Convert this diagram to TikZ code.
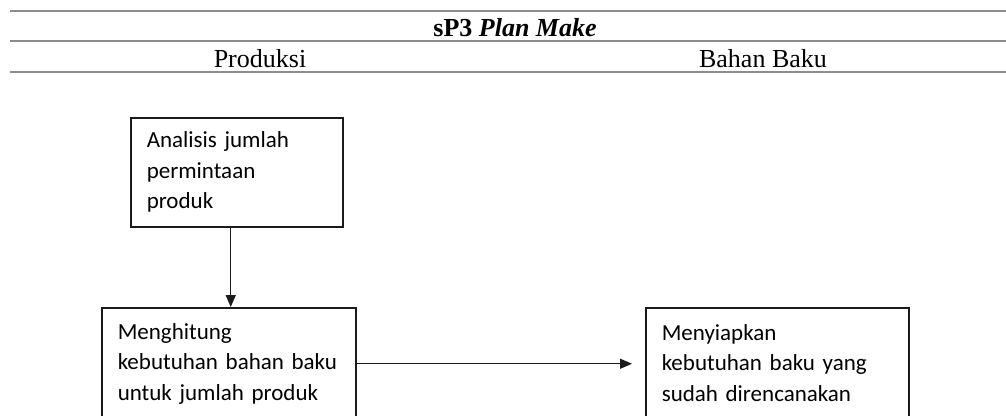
\documentclass[tikz,border=0pt]{standalone}
\usepackage{fontspec}
\setmainfont{Liberation Serif}
\newfontfamily\bodyfont{Carlito}
\usetikzlibrary{arrows.meta}
\definecolor{rulegray}{HTML}{8C8C8C}
\definecolor{ink}{HTML}{1A1A1A}
\begin{document}
\begin{tikzpicture}[x=1pt,y=-1pt,
  rowrule/.style={draw=rulegray,line width=1.6pt},
  headtext/.style={anchor=base,inner sep=0pt,font=\fontsize{26}{30}\selectfont},
  stepbox/.style={draw=ink,line width=1.5pt,anchor=north west,
    inner xsep=16pt,inner ysep=0pt,align=left,
    font=\bodyfont\fontsize{23}{30.5}\selectfont},
  flow/.style={draw=ink,line width=1.4pt,-{Triangle[length=12pt,width=10pt]}}]
\useasboundingbox (0,0) rectangle (1006,415);
\clip (0,0) rectangle (1006,415);

% table header rules
\coordinate (r1l) at (10,11);  \coordinate (r1r) at (1006,11);
\coordinate (r2l) at (10,41);  \coordinate (r2r) at (1006,41);
\coordinate (r3l) at (10,72);  \coordinate (r3r) at (1006,72);
\draw[rowrule] (r1l) -- (r1r);
\draw[rowrule] (r2l) -- (r2r);
\draw[rowrule] (r3l) -- (r3r);

% header texts
\node[headtext] (title) at (515,36) {\textbf{sP3 \textit{Plan Make}}};
\node[headtext] (colA) at (260,67) {Produksi};
\node[headtext] (colB) at (763,67) {Bahan Baku};

% process boxes (the lower two run past the bottom edge)
\node[stepbox,text width=180pt,minimum width=212pt,minimum height=109pt] (b1) at (130,117)
  {Analisis jumlah\\permintaan\\produk};
\node[stepbox,text width=222pt,minimum width=254pt,minimum height=112pt] (b2) at (101,307)
  {Menghitung\\kebutuhan bahan baku\\untuk jumlah produk};
\node[stepbox,text width=231pt,minimum width=263pt,minimum height=110pt] (b3) at (645,307)
  {Menyiapkan\\kebutuhan baku yang\\sudah direncanakan};

% connectors
\draw[flow] ([xshift=-6pt]b1.south) -- ([xshift=-6pt]b1.south |- b2.north);
\draw[flow] (b2.east) -- ([xshift=-13pt]b3.west |- b2.east);
\end{tikzpicture}
\end{document}
